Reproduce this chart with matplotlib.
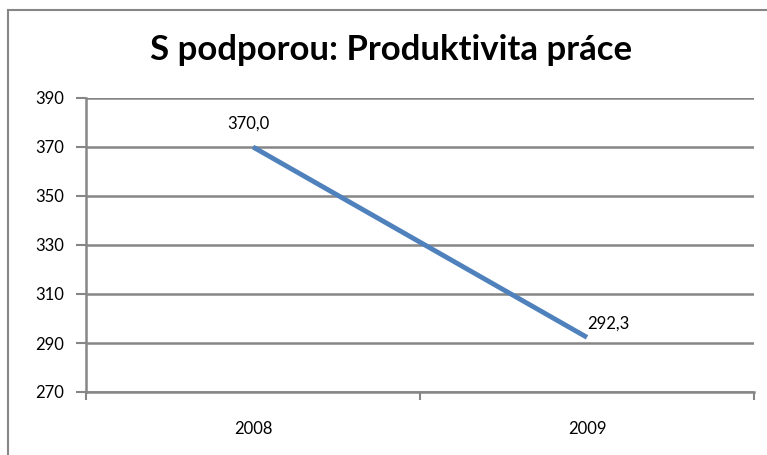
import matplotlib
matplotlib.use("Agg")
import matplotlib.pyplot as plt
from matplotlib.patches import Rectangle

title = "S podporou: Produktivita práce"
categories = ["2008", "2009"]
values = [370.0, 292.3]
yticks = [270, 290, 310, 330, 350, 370, 390]

plt.rcParams['font.family'] = ['Lato', 'DejaVu Sans']

fig = plt.figure(figsize=(7.67, 4.55), dpi=100)
gray = "#868686"

# outer chart border (left/top visible)
fig.patches.append(Rectangle((8/767, -0.1), 1.2, (1 - 10/455) + 0.1,
                             transform=fig.transFigure, fill=False,
                             edgecolor=gray, linewidth=1.5))

ax = fig.add_axes([86/767, 1 - 392/455, (754 - 86)/767, (392 - 98)/455])
x = [0.5, 1.5]
ax.plot(x, values, color="#4F81BD", linewidth=3.5, solid_capstyle="butt")
ax.set_xlim(0, 2)
ax.set_ylim(270, 390)
ax.set_yticks(yticks)
ax.set_yticklabels([str(v) for v in yticks], fontsize=12)
ax.set_xticks([0, 1, 2])
ax.set_xticklabels([])
ax.set_xticks(x, minor=True)
ax.set_xticklabels(categories, minor=True, fontsize=12)
ax.tick_params(axis='x', which='minor', length=0, pad=21)
ax.tick_params(axis='x', which='major', length=6, width=1.5, color=gray, direction='out')
ax.tick_params(axis='y', length=7, width=1.5, color=gray, direction='out', pad=9)
ax.grid(axis='y', color=gray, linewidth=1.8)
ax.set_axisbelow(True)
for s in ['top', 'right']:
    ax.spines[s].set_visible(False)
for s in ['left', 'bottom']:
    ax.spines[s].set_color(gray)
    ax.spines[s].set_linewidth(1.8)

label_offsets = [(-3, 17), (15, 10)]
for xi, v, off in zip(x, values, label_offsets):
    ax.annotate(f"{v:.1f}".replace(".", ","), (xi, v), xytext=off,
                textcoords="offset points", ha="center", va="center", fontsize=12)

fig.text(391/767, 1 - 50/455, title, ha="center", va="center", fontsize=25, fontweight="bold")

fig.savefig("out.png", dpi=100)
